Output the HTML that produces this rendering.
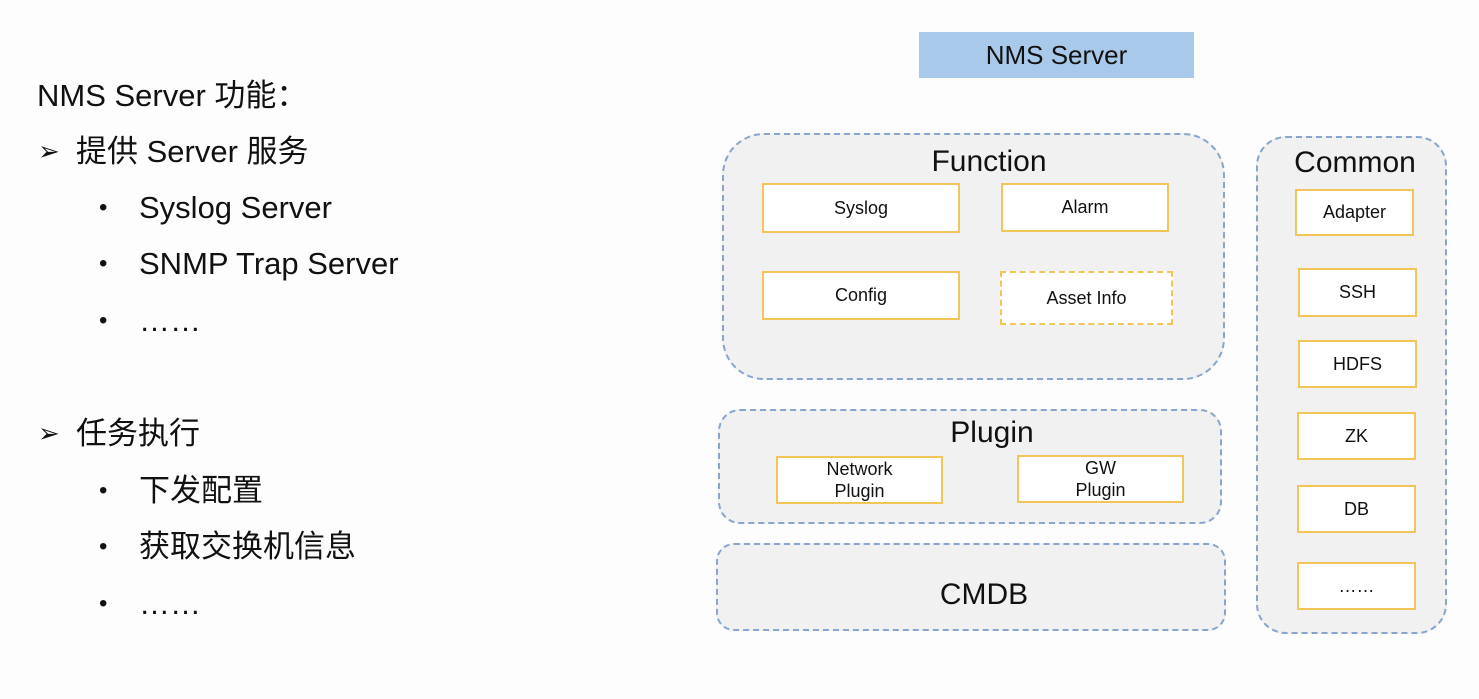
<!DOCTYPE html>
<html><head><meta charset="utf-8"><style>
body{margin:0;width:1479px;height:699px;background:#fdfdfd;position:relative;overflow:hidden;font-family:"Liberation Sans","Noto Sans CJK SC",sans-serif;color:#111}
.a{position:absolute}
.t{position:absolute;font-size:31px;white-space:nowrap;line-height:1}
.b{position:absolute;font-size:24px;line-height:1}
.ar{position:absolute;font-size:26px;line-height:1;font-family:"DejaVu Sans",sans-serif}
.grp{position:absolute;box-sizing:border-box;border:2px dashed #88a6cc;background:#f1f1f2}
.bx{position:absolute;box-sizing:border-box;border:2px solid #f2c459;background:#fff;display:flex;align-items:center;justify-content:center;text-align:center;font-size:18px;line-height:1.25}
.ttl{position:absolute;font-size:30px;transform:translate(-50%,-50%);white-space:nowrap}
</style></head><body>
<div class="t" style="left:37px;top:80px">NMS Server 功能：</div>
<div class="ar" style="left:38px;top:139px">➢</div><div class="t" style="left:76px;top:136px">提供 Server 服务</div>
<div class="b" style="left:99px;top:196px">•</div><div class="t" style="left:139px;top:192px">Syslog Server</div>
<div class="b" style="left:99px;top:252px">•</div><div class="t" style="left:139px;top:248px">SNMP Trap Server</div>
<div class="b" style="left:99px;top:309px">•</div><div class="t" style="left:139px;top:305px">……</div>
<div class="ar" style="left:38px;top:421px">➢</div><div class="t" style="left:76px;top:418px">任务执行</div>
<div class="b" style="left:99px;top:479px">•</div><div class="t" style="left:139px;top:475px">下发配置</div>
<div class="b" style="left:99px;top:535px">•</div><div class="t" style="left:139px;top:531px">获取交换机信息</div>
<div class="b" style="left:99px;top:592px">•</div><div class="t" style="left:139px;top:588px">……</div>

<div class="a" style="left:919px;top:32px;width:275px;height:46px;background:#a9c9ea;display:flex;align-items:center;justify-content:center;font-size:26px">NMS Server</div>

<div class="grp" style="left:722px;top:133px;width:503px;height:247px;border-radius:42px"></div>
<div class="ttl" style="left:989px;top:162px">Function</div>
<div class="bx" style="left:762px;top:183px;width:198px;height:50px">Syslog</div>
<div class="bx" style="left:1001px;top:183px;width:168px;height:49px">Alarm</div>
<div class="bx" style="left:762px;top:271px;width:198px;height:49px">Config</div>
<div class="bx" style="left:1000px;top:271px;width:173px;height:54px;border-style:dashed">Asset Info</div>

<div class="grp" style="left:718px;top:409px;width:504px;height:115px;border-radius:22px"></div>
<div class="ttl" style="left:992px;top:433px">Plugin</div>
<div class="bx" style="left:776px;top:456px;width:167px;height:48px">Network<br>Plugin</div>
<div class="bx" style="left:1017px;top:455px;width:167px;height:48px">GW<br>Plugin</div>

<div class="grp" style="left:716px;top:543px;width:510px;height:88px;border-radius:18px"></div>
<div class="ttl" style="left:984px;top:595px">CMDB</div>

<div class="grp" style="left:1256px;top:136px;width:191px;height:498px;border-radius:30px"></div>
<div class="ttl" style="left:1355px;top:163px">Common</div>
<div class="bx" style="left:1295px;top:189px;width:119px;height:47px">Adapter</div>
<div class="bx" style="left:1298px;top:268px;width:119px;height:49px">SSH</div>
<div class="bx" style="left:1298px;top:340px;width:119px;height:48px">HDFS</div>
<div class="bx" style="left:1297px;top:412px;width:119px;height:48px">ZK</div>
<div class="bx" style="left:1297px;top:485px;width:119px;height:48px">DB</div>
<div class="bx" style="left:1297px;top:562px;width:119px;height:48px">……</div>
</body></html>
